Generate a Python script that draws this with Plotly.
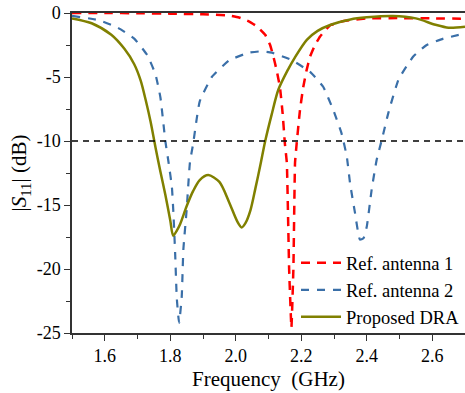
import plotly.graph_objects as go

# Ref. antenna 1
f_ref1 = [1.50, 1.60, 1.70, 1.80, 1.90, 1.98, 2.01, 2.04, 2.065, 2.09, 2.105, 2.115, 2.125, 2.135,
          2.143, 2.150, 2.156, 2.163, 2.170, 2.176, 2.181, 2.186, 2.196, 2.206, 2.216, 2.227, 2.242,
          2.257, 2.275, 2.29, 2.33, 2.40, 2.50, 2.60, 2.70]
s_ref1 = [0.0, 0.0, -0.02, -0.05, -0.1, -0.2, -0.35, -0.65, -1.05, -1.7, -2.5, -3.4, -4.5, -5.8,
          -7.8, -10.2, -11.7, -20.0, -24.6, -20.0, -11.7, -10.2, -7.6, -5.8, -4.5, -3.4, -2.5,
          -1.85, -1.3, -0.94, -0.62, -0.42, -0.40, -0.42, -0.45]

# Ref. antenna 2
f_ref2 = [1.50, 1.58, 1.64, 1.69, 1.73, 1.755, 1.77, 1.785, 1.795, 1.805, 1.81, 1.815,
          1.82, 1.827, 1.835, 1.84, 1.85, 1.86, 1.87, 1.89, 1.927, 1.98, 2.04, 2.075, 2.11, 2.17,
          2.227, 2.267, 2.298, 2.323, 2.339, 2.349, 2.364, 2.379, 2.39, 2.40, 2.415, 2.43, 2.446,
          2.466, 2.497, 2.542, 2.583, 2.634, 2.70]
s_ref2 = [-0.23, -0.55, -1.15, -2.0, -3.3, -4.8, -6.6, -10.0, -11.7, -13.6, -15.8, -18.8,
          -22.3, -24.2, -22.2, -18.5, -15.4, -11.7, -10.2, -6.9, -5.0, -3.7, -3.1, -3.0, -3.1, -3.67,
          -4.6, -5.76, -7.6, -9.4, -11.2, -13.3, -15.6, -17.7, -17.6, -16.7, -13.8, -11.5, -9.9,
          -7.8, -5.2, -3.4, -2.5, -2.0, -1.6]

# Proposed DRA
f_dra = [1.50, 1.56, 1.62, 1.66, 1.69, 1.71, 1.725, 1.74, 1.755, 1.77, 1.785, 1.80,
         1.809, 1.82, 1.83, 1.85, 1.87, 1.89, 1.916, 1.95, 1.98, 2.005, 2.018, 2.03, 2.045, 2.06,
         2.075, 2.09, 2.11, 2.13, 2.16, 2.18, 2.217, 2.25, 2.29, 2.35, 2.40, 2.48, 2.55, 2.61,
         2.65, 2.70]
s_dra = [-0.42, -0.8, -1.7, -2.8, -4.0, -5.3, -6.8, -8.5, -10.5, -12.4, -14.2, -16.2,
         -17.4, -17.0, -16.5, -15.1, -13.9, -13.05, -12.66, -13.2, -14.8, -16.3, -16.75, -16.4,
         -15.4, -13.7, -11.9, -10.0, -7.9, -6.0, -4.4, -3.5, -2.1, -1.4, -0.92, -0.5, -0.34,
         -0.23, -0.42, -0.92, -1.15, -1.07]

ref_level = -10
y_ticks = [0, -5, -10, -15, -20, -25]
y_ticktext = ["0", "-5", "-10", "-15", "-20", "-25"]
x_ticks = [1.6, 1.8, 2.0, 2.2, 2.4, 2.6]
x_ticktext = ["1.6", "1.8", "2.0", "2.2", "2.4", "2.6"]

FONT = "Liberation Serif"

fig = go.Figure()
fig.add_trace(go.Scatter(x=f_ref1, y=s_ref1, mode="lines", name="Ref. antenna 1",
                         line=dict(color="#ff0000", width=2.5, dash="9px,7px"),
                         line_shape="spline", line_smoothing=0.3))
fig.add_trace(go.Scatter(x=f_ref2, y=s_ref2, mode="lines", name="Ref. antenna 2",
                         line=dict(color="#3a6fa8", width=2.2, dash="8px,8px"),
                         line_shape="spline", line_smoothing=0.4))
fig.add_trace(go.Scatter(x=f_dra, y=s_dra, mode="lines", name="Proposed DRA",
                         line=dict(color="#808000", width=2.5),
                         line_shape="spline", line_smoothing=0.8))

fig.add_hline(y=ref_level, line=dict(color="black", width=1.5, dash="6px,5px"))

fig.update_layout(
    width=465, height=393,
    margin=dict(l=72, r=0, t=13, b=60),
    paper_bgcolor="white", plot_bgcolor="white",
    font=dict(family=FONT, size=18, color="black"),
    showlegend=True,
    legend=dict(x=0.57, y=-0.01, xanchor="left", yanchor="bottom",
                bgcolor="rgba(0,0,0,0)", font=dict(family=FONT, size=18.5),
                tracegroupgap=0, itemwidth=40),
)
fig.update_xaxes(
    range=[1.5, 2.7], tickvals=x_ticks, ticktext=x_ticktext,
    showgrid=False, zeroline=False,
    showline=True, linecolor="#333333", linewidth=1.5, mirror=True,
    ticks="outside", ticklen=6, tickwidth=1.2, tickcolor="#333333",
    minor=dict(ticks="outside", ticklen=4, dtick=0.1, tick0=1.5, tickcolor="#333333"),
    title=dict(text="Frequency  (GHz)", font=dict(size=21), standoff=6),
    tickfont=dict(size=18),
)
fig.update_yaxes(
    range=[-25, 0], tickvals=y_ticks, ticktext=y_ticktext,
    showgrid=False, zeroline=False,
    showline=True, linecolor="#333333", linewidth=1.5,
    ticks="outside", ticklen=6, tickwidth=1.2, tickcolor="#333333",
    minor=dict(ticks="outside", ticklen=4, dtick=2.5, tick0=0, tickcolor="#333333"),
    title=dict(text="|<i>S</i><sub>11</sub>| (dB)", font=dict(size=21), standoff=4),
    tickfont=dict(size=18),
)

fig.write_html("out.html")
